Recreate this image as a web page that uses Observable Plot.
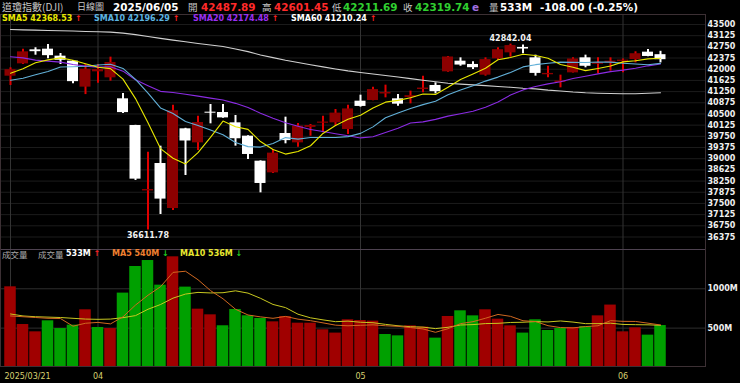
<!DOCTYPE html>
<html><head><meta charset="utf-8">
<script src="https://cdn.jsdelivr.net/npm/d3@7"></script>
<script src="https://cdn.jsdelivr.net/npm/@observablehq/plot@0.6"></script>
<style>
html,body{margin:0;padding:0;background:#000;width:740px;height:383px;overflow:hidden;}
#wrap{position:relative;width:740px;height:383px;background:#000;}
.t{position:absolute;white-space:nowrap;font-family:"DejaVu Sans",sans-serif;font-weight:bold;line-height:12px;}
.c{font-family:"Noto Sans CJK TC",sans-serif;font-weight:normal;color:#c8c8c8;}
.l1{top:1px;font-size:10.4px;}
.l2{top:13px;font-size:8px;}
.l3{top:248px;font-size:8px;}
.ln{position:absolute;background:#3c3034;}
#price,#vol{position:absolute;left:0;}
#price{top:14px;} #vol{top:249px;}
</style></head>
<body><div id="wrap">
<div id="price"></div><div id="vol"></div>
<div class="ln" style="left:0;top:14px;width:706px;height:1px;"></div>
<div class="ln" style="left:0;top:249px;width:706px;height:1px;background:#4e4250"></div>
<div class="ln" style="left:0;top:366px;width:706px;height:1px;"></div>
<div class="ln" style="left:705px;top:14px;width:1px;height:353px;"></div>
<div class="ln" style="left:0;top:14px;width:1px;height:353px;"></div>

<span class="t l1 c" style="left:2px;font-size:10px">道瓊指數(DJI)</span>
<span class="t l1 c" style="left:77px;font-size:9px">日線圖</span>
<span class="t l1" style="left:113px;color:#fff">2025/06/05</span>
<span class="t l1 c" style="left:188px;font-size:9.5px">開</span>
<span class="t l1" style="left:201px;color:#ff2a2a">42487.89</span>
<span class="t l1 c" style="left:262px;font-size:9.5px">高</span>
<span class="t l1" style="left:274px;color:#ff2a2a">42601.45</span>
<span class="t l1 c" style="left:332px;font-size:9.5px">低</span>
<span class="t l1" style="left:343px;color:#30d030">42211.69</span>
<span class="t l1 c" style="left:403px;font-size:9.5px">收</span>
<span class="t l1" style="left:415px;color:#30d030">42319.74</span>
<span class="t l1" style="left:472px;color:#a070e0">e</span>
<span class="t l1 c" style="left:489px;font-size:9.5px">量</span>
<span class="t l1" style="left:500px;color:#fff">533M</span>
<span class="t l1" style="left:540px;color:#fff">-108.00 (-0.25%)</span>

<span class="t l2" style="left:2px;color:#e8e800">SMA5 42368.53 <span style="color:#ff2020">↑</span></span>
<span class="t l2" style="left:94px;color:#5cb4e0">SMA10 42196.29 <span style="color:#ff2020">↑</span></span>
<span class="t l2" style="left:193px;color:#9a30f0">SMA20 42174.48 <span style="color:#ff2020">↑</span></span>
<span class="t l2" style="left:291px;color:#fff">SMA60 41210.24 <span style="color:#ff2020">↑</span></span>

<span class="t l3 c" style="left:2px;font-size:8.5px;color:#aaa">成交量</span>
<span class="t l3 c" style="left:38px;font-size:8.5px;color:#aaa">成交量</span>
<span class="t l3" style="left:66px;color:#fff">533M <span style="color:#ff2020">↑</span></span>
<span class="t l3" style="left:112px;color:#f08030">MA5 540M <span style="color:#20d020">↓</span></span>
<span class="t l3" style="left:180px;color:#e8e830">MA10 536M <span style="color:#20d020">↓</span></span>
</div>
<script>
const dates = ["2025/03/21","03/24","03/25","03/26","03/27","03/28","03/31","04/01","04/02","04/03","04/04","04/07","04/08","04/09","04/10","04/11","04/14","04/15","04/16","04/17","04/21","04/22","04/23","04/24","04/25","04/28","04/29","04/30","05/01","05/02","05/05","05/06","05/07","05/08","05/09","05/12","05/13","05/14","05/15","05/16","05/19","05/20","05/21","05/22","05/23","05/27","05/28","05/29","05/30","06/02","06/03","06/04","06/05"];
const open  = [41767,42181,42650,42673,42438,42271,41400,41913,41712,41008,40113,37920,38839,37330,40002,39532,40560,40549,40203,39756,38917,38526,39845,39532,40050,40190,40203,39979,40929,40952,41170,41008,41050,41320,41455,41913,42270,42160,41801,42349,42550,42730,42382,41815,41555,41879,42382,42165,42222,42262,42326,42572,42487.89];
const high  = [42047,42673,42720,42829,42528,42290,42160,42159,42405,41186,40120,39220,39420,40795,40020,40426,40818,40818,40449,39770,38930,39310,40393,40180,40146,40426,40650,40795,41130,41399,41466,41153,41265,41768,41545,42430,42382,42248,42382,42718,42842.04,42810,42472,42103,41801,42382,42472,42382,42382,42340,42585,42662,42601.45];
const low   = [41455,42160,42470,42349,42159,41510,41150,41533,41600,40516,38270,36611.78,37130,37263,38437,39275,40169,40360,39421,38973,37856,38500,39499,39387,39756,39867,40091,39812,40728,40940,41041,40762,40840,41210,41175,41900,42100,41991,41768,42300,42405,42520,41768,41712,41376,41870,42047,41846,41935,41879,42215,42420,42211.69];
const close = [41985,42583,42588,42455,42300,41584,42002,41990,42225,40546,38315,37966,37646,40608,39594,40213,40525,40369,39669,39142,38170,39187,39607,40093,40114,40228,40528,40669,40753,41317,41219,40829,41114,41368,41249,42410,42140,42051,42323,42655,42792,42677,41860,41859,41603,42344,42099,42216,42270,42305,42520,42428,42319.74];
const sma5  = [41865,42013,42215,42313,42382,42302,42186,42066,42020,41669,41016,40208,39340,39016,38826,39205,39717,40262,40074,39984,39575,39307,39155,39240,39434,39846,40114,40326,40458,40699,40897,40957,41046,41169,41156,41394,41656,41844,42035,42316,42392,42500,42461,42369,42158,42069,41953,42024,42106,42247,42282,42348,42368.53];
const sma10 = [41632,41700,41815,41925,42074,42084,42100,42141,42167,42026,41659,41197,40703,40518,40248,40111,39963,39801,39545,39405,39390,39512,39708,39657,39709,39710,39711,39741,39849,40067,40372,40536,40686,40814,40927,41146,41307,41445,41602,41736,41893,42078,42153,42202,42237,42230,42226,42243,42238,42203,42175,42150,42196.29];
const sma20 = [42416,42382,42304,42271,42237,42159,42103,42069,42081,41935,41646,41449,41259,41222,41161,41098,41032,40971,40856,40716,40525,40355,40206,40088,39979,39911,39837,39771,39697,39736,39881,40024,40197,40236,40318,40428,40509,40593,40726,40902,41133,41307,41420,41508,41582,41688,41767,41844,41920,41970,42034,42114,42174.48];
const sma60 = [43330,43320,43310,43300,43290,43280,43265,43255,43245,43210,43160,43100,43035,42975,42920,42865,42815,42760,42680,42590,42480,42390,42300,42225,42150,42080,42010,41945,41890,41840,41790,41740,41685,41630,41580,41530,41500,41475,41450,41420,41395,41360,41340,41300,41270,41235,41210,41195,41185,41178,41180,41195,41210.24];
const volume = [1025,546,453,593,495,538,733,508,495,945,1283,1359,1046,1406,1021,741,669,530,737,657,623,580,648,563,563,479,437,606,597,589,419,402,529,513,373,648,720,656,733,614,529,437,606,470,495,508,521,656,793,453,504,411,533];
const volDir = [1,1,1,-1,-1,-1,1,-1,1,-1,-1,-1,-1,1,-1,1,1,-1,-1,-1,-1,1,1,1,1,1,1,1,1,1,-1,-1,1,1,-1,1,-1,-1,1,1,1,-1,-1,-1,-1,1,-1,1,1,1,1,-1,-1];
const volMA5  = [655,645,635,625,622,525,562,573,554,644,793,918,1026,1208,1223,1115,977,873,740,667,643,625,649,614,595,567,538,530,536,542,530,523,507,490,447,493,557,582,626,674,650,594,584,531,507,503,520,530,595,586,585,563,540];
const volMA10 = [680,655,645,640,635,625,615,612,615,633,659,740,800,881,933,954,947,950,974,945,879,801,761,677,631,605,582,589,575,569,548,530,518,513,494,511,540,545,558,561,572,575,583,579,591,577,557,557,563,547,544,542,536];
const priceTicks = [36375,36750,37125,37500,37875,38250,38625,39000,39375,39750,40125,40500,40875,41250,41625,42000,42375,42750,43125,43500];
const volTicks = [500,1000];
const volTickLabels = ["500M","1000M"];
const monthIdx = [0,7,28,49];
const monthLabels = ["2025/03/21","04","05","06"];
const maxLabel = {i:40, v:42842.04, t:"42842.04"};
const minLabel = {i:11, v:36611.78, t:"36611.78"};

const idx = d3.range(close.length);
const candles = idx.map(i => ({i, o:open[i], h:high[i], l:low[i], c:close[i], up: close[i] >= open[i]}));
const xDomain = [-0.8, 55.6];
const font = {background:"transparent", color:"#f0f0f0", fontFamily:"DejaVu Sans, sans-serif", fontSize:"8px", fontWeight:"bold"};

const price = Plot.plot({
  width:740, height:235, marginTop:0, marginBottom:0, marginLeft:0, marginRight:35,
  style: font,
  color:{type:"identity"},
  x:{domain:xDomain, axis:null},
  y:{domain:[35956,43835], axis:"right", ticks:priceTicks, tickSize:0, tickPadding:2, tickFormat:d=>String(d), label:null},
  marks:[
    Plot.ruleY(priceTicks, {stroke:"#1c1c1c"}),
    Plot.ruleX(monthIdx, {stroke:"#333"}),
    Plot.ruleX(candles, {x:"i", y1:"l", y2:"h", stroke:d=>d.up?"#e00000":"#ffffff", strokeWidth:2}),
    Plot.rect(candles, {x1:d=>d.i-0.44, x2:d=>d.i+0.44, y1:"o", y2:"c", fill:d=>d.up?"#8c0000":"#ffffff"}),
    Plot.line(idx, {x:i=>i, y:i=>sma60[i], stroke:"#d0d0d0", strokeWidth:1.1}),
    Plot.line(idx, {x:i=>i, y:i=>sma20[i], stroke:"#8a2be2", strokeWidth:1.1}),
    Plot.line(idx, {x:i=>i, y:i=>sma10[i], stroke:"#62b0d8", strokeWidth:1.1}),
    Plot.line(idx, {x:i=>i, y:i=>sma5[i], stroke:"#e8e800", strokeWidth:1.1}),
    Plot.text([maxLabel], {x:"i", y:"v", text:"t", dy:-6, fill:"#f0f0f0"}),
    Plot.text([minLabel], {x:"i", y:"v", text:"t", dy:5, fill:"#f0f0f0"})
  ]
});
document.getElementById("price").appendChild(price);

const bars = idx.map(i => ({i, v:volume[i], up: volDir[i] > 0}));
const vol = Plot.plot({
  width:740, height:134, marginTop:0, marginBottom:16, marginLeft:0, marginRight:35,
  style: font,
  color:{type:"identity"},
  x:{domain:xDomain, axis:null},
  y:{domain:[0,1499], axis:"right", ticks:volTicks, tickSize:0, tickPadding:2, tickFormat:(d,k)=>volTickLabels[k], label:null},
  marks:[
    Plot.ruleY(volTicks, {stroke:"#2e2e2e"}),
    Plot.ruleX(monthIdx, {stroke:"#333"}),
    Plot.rect(bars, {x1:d=>d.i-0.46, x2:d=>d.i+0.46, y1:0, y2:"v", fill:d=>d.up?"#a00000":"#00a000"}),
    Plot.line(idx, {x:i=>i, y:i=>volMA10[i], stroke:"#c8c820", strokeWidth:1}),
    Plot.line(idx, {x:i=>i, y:i=>volMA5[i], stroke:"#d06820", strokeWidth:1}),
    Plot.text([0], {x:i=>monthIdx[i], text:i=>monthLabels[i], frameAnchor:"bottom", dy:11, dx:-6, textAnchor:"start", fill:"#d8d070", fontWeight:"normal", fontSize:8}),
    Plot.text([1,2,3], {x:i=>monthIdx[i], text:i=>monthLabels[i], frameAnchor:"bottom", dy:11, fill:"#d8d070", fontWeight:"normal", fontSize:8})
  ]
});
document.getElementById("vol").appendChild(vol);
</script>
</body></html>
